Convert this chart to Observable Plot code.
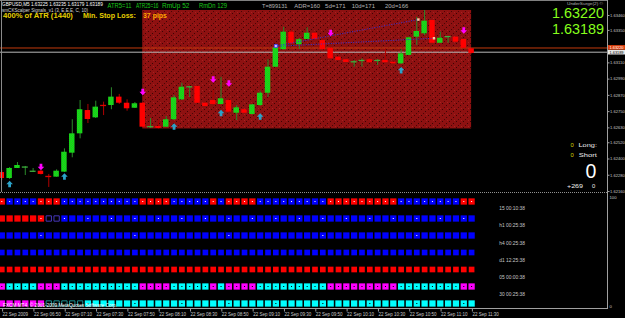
<!DOCTYPE html>
<html><head><meta charset="utf-8">
<script src="https://cdn.jsdelivr.net/npm/d3@7"></script>
<script src="https://cdn.jsdelivr.net/npm/@observablehq/plot@0.6"></script>
<style>
html,body{margin:0;padding:0;background:#000;}
#wrap{position:relative;width:625px;height:318px;background:#000;overflow:hidden;}
#wrap svg{position:absolute;left:0;}
</style></head><body><div id="wrap"></div>
<script>
// ---------- DATA ----------
// GBPUSD M5, bar 0 = 22 Sep 2009 06:30, bar 60 = 11:30
const opens  = [1.62300,1.62256,1.62330,1.62340,1.62308,1.62310,1.62273,1.62266,1.62303,1.62443,1.62586,1.62758,1.62704,1.62799,1.62795,1.62857,1.62812,1.62775,1.62812,1.62637,1.62640,1.62635,1.62690,1.62837,1.62930,1.62936,1.62812,1.62832,1.62803,1.62832,1.62738,1.62764,1.62729,1.62795,1.62886,1.63078,1.63207,1.63337,1.63244,1.63283,1.63329,1.63275,1.63218,1.63152,1.63133,1.63113,1.63123,1.63133,1.63126,1.63128,1.63115,1.63103,1.63165,1.63300,1.63325,1.63423,1.63255,1.63303,1.63300,1.63283,1.63214];
const highs  = [1.62315,1.62337,1.62374,1.62345,1.62330,1.62315,1.62286,1.62320,1.62475,1.62690,1.62832,1.62803,1.62827,1.62820,1.62926,1.62877,1.62837,1.62817,1.62817,1.62699,1.62684,1.62714,1.62869,1.62960,1.62936,1.62939,1.62817,1.62906,1.63004,1.62847,1.62795,1.62766,1.62803,1.62901,1.63133,1.63224,1.63374,1.63349,1.63290,1.63369,1.63334,1.63279,1.63221,1.63157,1.63135,1.63128,1.63140,1.63140,1.63135,1.63214,1.63117,1.63207,1.63300,1.63447,1.63497,1.63427,1.63337,1.63307,1.63301,1.63286,1.63216];
const lows   = [1.62241,1.62249,1.62330,1.62278,1.62300,1.62282,1.62190,1.62266,1.62300,1.62409,1.62549,1.62662,1.62699,1.62721,1.62764,1.62803,1.62753,1.62773,1.62633,1.62626,1.62622,1.62633,1.62684,1.62832,1.62854,1.62810,1.62784,1.62795,1.62799,1.62744,1.62684,1.62736,1.62725,1.62788,1.62854,1.63076,1.63207,1.63246,1.63209,1.63283,1.63275,1.63205,1.63138,1.63126,1.63111,1.63078,1.63078,1.63108,1.63091,1.63111,1.63102,1.63098,1.63165,1.63238,1.63312,1.63253,1.63255,1.63255,1.63261,1.63216,1.63176];
const closes = [1.62256,1.62330,1.62352,1.62341,1.62311,1.62286,1.62269,1.62310,1.62450,1.62586,1.62764,1.62692,1.62783,1.62792,1.62857,1.62812,1.62771,1.62808,1.62635,1.62640,1.62626,1.62690,1.62852,1.62930,1.62936,1.62812,1.62788,1.62803,1.62845,1.62746,1.62778,1.62738,1.62800,1.62886,1.63078,1.63221,1.63337,1.63251,1.63281,1.63329,1.63283,1.63207,1.63140,1.63128,1.63113,1.63123,1.63133,1.63111,1.63130,1.63111,1.63103,1.63177,1.63295,1.63342,1.63418,1.63255,1.63292,1.63305,1.63263,1.63218,1.63180];

const priceTicks = [1.63460,1.63350,1.63110,1.62990,1.62870,1.62750,1.62630,1.62520,1.62400,1.62280,1.62160];
const askPrice = 1.63220, bidPrice = 1.63189;

const sellBars   = [5, 18, 27, 29, 42, 59];
const sellPrices = [1.62341, 1.62895, 1.62987, 1.62958, 1.63331, 1.63349];
const buyBars    = [1, 8, 22, 28, 33, 51];
const buyPrices  = [1.62215, 1.62271, 1.62640, 1.62740, 1.62714, 1.63056];

const trendFrom      = [35, 35];
const trendFromPrice = [1.63235, 1.63232];
const trendTo        = [53.2, 55.2];
const trendToPrice   = [1.63430, 1.63292];

const boxStartBar = 18, boxEndBar = 60;

const timeTickBars   = [0,4,8,12,16,20,24,28,32,36,40,44,48,52,56,60];
const timeTickLabels = ["22 Sep 2009","22 Sep 06:50","22 Sep 07:10","22 Sep 07:30","22 Sep 07:50","22 Sep 08:10","22 Sep 08:30","22 Sep 08:50","22 Sep 09:10","22 Sep 09:30","22 Sep 09:50","22 Sep 10:10","22 Sep 10:30","22 Sep 10:50","22 Sep 11:10","22 Sep 11:30"];

const rowNames = ["m5","15","h1","h4","d1","05","30"];
const rowSegments = {
  m5: [["R",0,0],["B",1,4],["R",5,7],["B",8,17],["R",18,21],["B",22,26],["R",27,27],["B",28,28],["R",29,32],["B",33,41],["R",42,50],["B",51,58],["R",59,60]],
  "15": [["R",0,5],["K",6,7],["B",8,60]],
  h1: [["B",0,60]],
  h4: [["B",0,60]],
  d1: [["R",0,60]],
  "05": [["M",0,0],["C",1,4],["M",5,7],["C",8,17],["M",18,21],["C",22,26],["M",27,27],["C",28,28],["M",29,32],["C",33,41],["M",42,50],["C",51,58],["M",59,60]],
  "30": [["M",0,5],["T",6,10],["C",11,60]]
};
const rowDotEveryBar = {m5: "#ffffff", "05": "#000000"};
const rowDotBars = {
  "15": [5,8,11,14,17,20,23,26,29,32,35,38,41,44,47,50,53,56,59],
  h1: [5,17,29,41,53],
  "30": [5,11,17,23,29,35,41,47,53,59]
};
const rowDotColor = {"15": "#ffffff", h1: "#ffffff", "30": "#000000"};
const rowLabels = ["15  00:10:38","h1  00:25:38","h4  00:25:38","d1  12:25:38","05  00:00:38","30  00:25:38"];

// ---------- BUILD ----------
const candles = opens.map((o, i) => ({i, o, h: highs[i], l: lows[i], c: closes[i], up: closes[i] >= o}));
const bodies = candles.filter(d => Math.abs(d.c - d.o) >= 0.00011);
const dojis  = candles.filter(d => Math.abs(d.c - d.o) < 0.00011);
const inBox = candles.filter(d => d.i >= boxStartBar && d.i <= boxEndBar);
const box = [{x1: boxStartBar, x2: boxEndBar, y1: d3.min(inBox, d => d.l), y2: d3.max(inBox, d => d.h)}];
const sells = sellBars.map((b, k) => ({bar: b, price: sellPrices[k]}));
const buys = buyBars.map((b, k) => ({bar: b, price: buyPrices[k]}));
const trends = trendFrom.map((f, k) => ({from: f, p1: trendFromPrice[k], to: trendTo[k], p2: trendToPrice[k]}));

const arrowDown = {draw(ctx, size) {
  const s = Math.sqrt(size / Math.PI), w = s * 0.42, m = -0.05 * s;
  ctx.moveTo(-w, -s); ctx.lineTo(w, -s); ctx.lineTo(w, m); ctx.lineTo(s, m);
  ctx.lineTo(0, s); ctx.lineTo(-s, m); ctx.lineTo(-w, m); ctx.closePath();
}};
const arrowUp = {draw(ctx, size) {
  const s = Math.sqrt(size / Math.PI), w = s * 0.42, m = 0.05 * s;
  ctx.moveTo(-w, s); ctx.lineTo(w, s); ctx.lineTo(w, m); ctx.lineTo(s, m);
  ctx.lineTo(0, -s); ctx.lineTo(-s, m); ctx.lineTo(-w, m); ctx.closePath();
}};

const FONT = "Liberation Sans, Arial, sans-serif";
const wrap = document.getElementById("wrap");

const main = Plot.plot({
  width: 625, height: 193,
  marginLeft: 0, marginRight: 18, marginTop: 1, marginBottom: 1,
  style: {background: "#000", color: "#c8c8c8", fontFamily: FONT, fontSize: "4.1px", overflow: "visible"},
  x: {domain: [0, 60], range: [1.3, 471.1], axis: null},
  y: {domain: [1.6216, 1.6346], range: [191, 15]},
  color: {type: "identity"},
  marks: [
    Plot.rect(box, {x1: "x1", x2: "x2", y1: "y1", y2: "y2", fill: "url(#boxPat)"}),
    Plot.ruleY([askPrice], {stroke: "#c23a0c", strokeWidth: 1}),
    Plot.ruleY([bidPrice], {stroke: "#b8b8b8", strokeWidth: 1}),
    Plot.ruleX(candles, {x: "i", y1: "l", y2: "h", stroke: d => d.up ? "#2b8a2b" : "#b00000", strokeWidth: 1}),
    Plot.rect(bodies, {x1: d => d.i - 0.35, x2: d => d.i + 0.35, y1: "o", y2: "c", fill: d => d.up ? "url(#greenPat)" : "#ff0000"}),
    Plot.ruleY(dojis, {y: d => (d.o + d.c) / 2, x1: d => d.i - 0.38, x2: d => d.i + 0.38, stroke: d => d.up ? "#3cb03c" : "#e00000", strokeWidth: 1.3}),
    Plot.link(trends, {x1: "from", y1: "p1", x2: "to", y2: "p2", stroke: "#3232e0", strokeWidth: 1, strokeDasharray: "1,1.5"}),
    Plot.dot(trends, {x: "to", y: "p2", symbol: "square", r: 1.4, fill: "#f6c7a0"}),
    Plot.dot(trends.slice(0, 1), {x: "from", y: "p1", symbol: "square", r: 1.7, fill: "#c8c8ff", stroke: "#3b3bff", strokeWidth: 0.8}),
    Plot.dot(sells, {x: "bar", y: "price", symbol: arrowDown, r: 3.3, fill: "#ff00ff"}),
    Plot.dot(buys, {x: "bar", y: "price", symbol: arrowUp, r: 3.3, fill: "#2ba3c9"}),
    Plot.axisY({anchor: "right", ticks: priceTicks, tickFormat: d3.format(".5f"), tickSize: 1.5, tickPadding: 1, label: null, stroke: "#a0a0a0"})
  ]
});
main.style.top = "0px";

// patterns
const NS = "http://www.w3.org/2000/svg";
const defs = document.createElementNS(NS, "defs");
defs.innerHTML = `
<pattern id="greenPat" width="2" height="2" patternUnits="userSpaceOnUse">
  <rect width="2" height="2" fill="#00ff00"/><rect width="1" height="1" fill="#33a833"/><rect x="1" y="1" width="1" height="1" fill="#33a833"/>
</pattern>
<pattern id="boxPat" width="7" height="6" patternUnits="userSpaceOnUse">
  <rect width="7" height="6" fill="#8e1111"/>
  <rect x="1" y="1" width="1" height="1" fill="#3c0404"/>
  <rect x="5" y="3" width="1" height="1" fill="#3c0404"/>
  <rect x="3" y="5" width="1" height="1" fill="#4a0606"/>
  <rect x="6" y="0" width="1" height="1" fill="#a82020"/>
</pattern>`;
main.insertBefore(defs, main.firstChild);
wrap.appendChild(main);

// indicator sub-window
const cells = [], cellDots = [];
for (const row of rowNames) {
  for (const [code, a, b] of rowSegments[row]) {
    for (let i = a; i <= b; i++) {
      cells.push({row, i, code});
      if (rowDotEveryBar[row]) cellDots.push({row, i, color: rowDotEveryBar[row]});
    }
  }
  if (rowDotBars[row]) for (const i of rowDotBars[row]) cellDots.push({row, i, color: rowDotColor[row]});
}
const cellFill = {R: "#ff0000", B: "#0000ff", M: "#ff00ff", C: "#00ffff", K: "#000000", T: "#000000"};
const cellStroke = {K: "#4636b8", T: "#1a8f8f"};
const small = new Set(["h4", "d1"]);
const labelByBar = new Map(timeTickBars.map((b, k) => [b, timeTickLabels[k]]));

const ind = Plot.plot({
  width: 625, height: 125,
  marginLeft: 0, marginRight: 18, marginTop: 0, marginBottom: 9,
  style: {background: "#000", color: "#c8c8c8", fontFamily: FONT, fontSize: "4.5px", overflow: "visible"},
  x: {domain: [0, 60], range: [1.3, 471.1]},
  y: {type: "point", domain: rowNames, range: [7, 110.5], padding: 0, axis: null},
  color: {type: "identity"},
  marks: [
    Plot.dot(cells.filter(d => !small.has(d.row) && !cellStroke[d.code]), {x: "i", y: "row", symbol: "square", r: 3.55, fill: d => cellFill[d.code]}),
    Plot.dot(cells.filter(d => small.has(d.row)), {x: "i", y: "row", symbol: "square", r: 3.2, fill: d => cellFill[d.code]}),
    Plot.dot(cells.filter(d => cellStroke[d.code]), {x: "i", y: "row", symbol: "square", r: 3.0, fill: "#000", stroke: d => cellStroke[d.code], strokeWidth: 1}),
    Plot.dot(cellDots, {x: "i", y: "row", symbol: "square", r: 0.6, fill: "color"}),
    Plot.axisX({ticks: timeTickBars, tickFormat: d => labelByBar.get(d), textAnchor: "start", tickSize: 2.5, tickPadding: 1.2, dx: 0.8, label: null, stroke: "#a0a0a0"})
  ]
});
ind.style.top = "193px";
wrap.appendChild(ind);

// overlay: frame lines and labels
const ov = document.createElementNS(NS, "svg");
ov.setAttribute("width", 625); ov.setAttribute("height", 318);
ov.style.top = "0px"; ov.style.pointerEvents = "none";
wrap.appendChild(ov);
function line(x1, y1, x2, y2, stroke, dash) {
  const l = document.createElementNS(NS, "line");
  l.setAttribute("x1", x1); l.setAttribute("y1", y1); l.setAttribute("x2", x2); l.setAttribute("y2", y2);
  l.setAttribute("stroke", stroke); l.setAttribute("stroke-width", 1);
  if (dash) l.setAttribute("stroke-dasharray", dash);
  ov.appendChild(l);
}
function rect(x, y, w, h, fill) {
  const r = document.createElementNS(NS, "rect");
  r.setAttribute("x", x); r.setAttribute("y", y); r.setAttribute("width", w); r.setAttribute("height", h);
  r.setAttribute("fill", fill); ov.appendChild(r);
}
// text placed at (x, baseline y); when w is given the text is horizontally scaled to that width
function txt(s, x, y, size, fill, o = {}) {
  const t = document.createElementNS(NS, "text");
  t.setAttribute("font-size", size); t.setAttribute("fill", fill);
  t.setAttribute("font-family", FONT);
  if (o.bold) t.setAttribute("font-weight", "bold");
  t.textContent = s; ov.appendChild(t);
  let sx = 1;
  if (o.w) { const nat = t.getComputedTextLength(); if (nat > 0) sx = o.w / nat; }
  t.setAttribute("transform", `translate(${x},${y}) scale(${sx},1)`);
}
line(0, 0.5, 607, 0.5, "#808080");
line(1.5, 0, 1.5, 192, "#8a8a8a");
line(0, 192.5, 607, 192.5, "#909090", "1,1");
line(0, 308.5, 607.5, 308.5, "#a0a0a0");
line(607.5, 0, 607.5, 309, "#a0a0a0");

const ys = main.scale("y");
const yAsk = ys.apply(askPrice), yBid = ys.apply(bidPrice);
rect(608, yAsk - 2.4, 17, 4.6, "#e0400c");
txt(d3.format(".5f")(askPrice), 609.5, yAsk + 1.6, 4.2, "#ffffff", {w: 14});
rect(608, yBid - 1.8, 17, 4.6, "#e8e8e8");
txt(d3.format(".5f")(bidPrice), 609.5, yBid + 2.2, 4.2, "#000000", {w: 14});

txt("GBPUSD,M5  1.63225 1.63235 1.63179 1.63189", 2, 6.3, 5, "#ffffff", {w: 101});
txt("smCKScalper Signals_v1 (3, E,E,E, C, 10)", 2, 11.8, 4.6, "#d8d8d8", {w: 86});
txt("400% of ATR (1440)", 3, 18.3, 6.8, "#e6cf00", {w: 70, bold: true});
txt("Min. Stop Loss:", 83, 18.3, 6.8, "#e6cf00", {w: 53, bold: true});
txt("37 pips", 143, 18.3, 6.8, "#ffa800", {w: 24, bold: true});
txt("ATR5=11", 107.5, 8.3, 6.6, "#18c818", {w: 24});
txt("ATR25=16", 136, 8.3, 6.6, "#18c818", {w: 22.5});
txt("RmUp 52", 162, 8.3, 6.6, "#18c818", {w: 27.5});
txt("RmDn 129", 199, 8.3, 6.6, "#18c818", {w: 28});
txt("T=899131", 262, 7.8, 5.6, "#b4b4b4", {w: 25.5});
txt("ADR=160", 294.3, 7.8, 5.6, "#b4b4b4", {w: 25.7});
txt("5d=171", 325, 7.8, 5.6, "#b4b4b4", {w: 20.7});
txt("10d=171", 351.7, 7.8, 5.6, "#b4b4b4", {w: 23.3});
txt("20d=166", 385, 7.8, 5.6, "#b4b4b4", {w: 23.3});
txt("UnderSurge(2) ©", 567, 4.6, 4.2, "#b0b0b0", {w: 36});
txt("1.63220", 552, 18.4, 15.2, "#86ff1c", {w: 52});
txt("1.63189", 552, 34.4, 15.2, "#86ff1c", {w: 52});
txt("0", 570.5, 146.5, 5.8, "#d8d800");
txt("Long:", 578.5, 146.5, 5.8, "#f0f0f0", {w: 18.5});
txt("0", 570.5, 156.5, 5.8, "#d8d800");
txt("Short", 578.8, 156.5, 5.8, "#f0f0f0", {w: 18});
txt("0", 585.5, 178, 19.5, "#ffffff");
txt("+269", 567, 188.3, 5.8, "#f0f0f0", {w: 16});
txt("0", 592, 188.3, 5.8, "#f0f0f0");
const labelBase = [209.8, 226.8, 244.8, 261.8, 278.8, 295.8];
rowLabels.forEach((s, k) => txt(s, 499.3, labelBase[k], 4.6, "#c8c8c8", {w: 25.7}));
txt("FXCM MT4, © 2001-2009 MetaQuotes Software Corp.", 3, 306.5, 4.6, "#ffffff", {w: 114});
txt("100", 609.5, 199, 4.2, "#c8c8c8");
txt("0", 609.5, 307.5, 4.2, "#c8c8c8");
</script></body></html>
